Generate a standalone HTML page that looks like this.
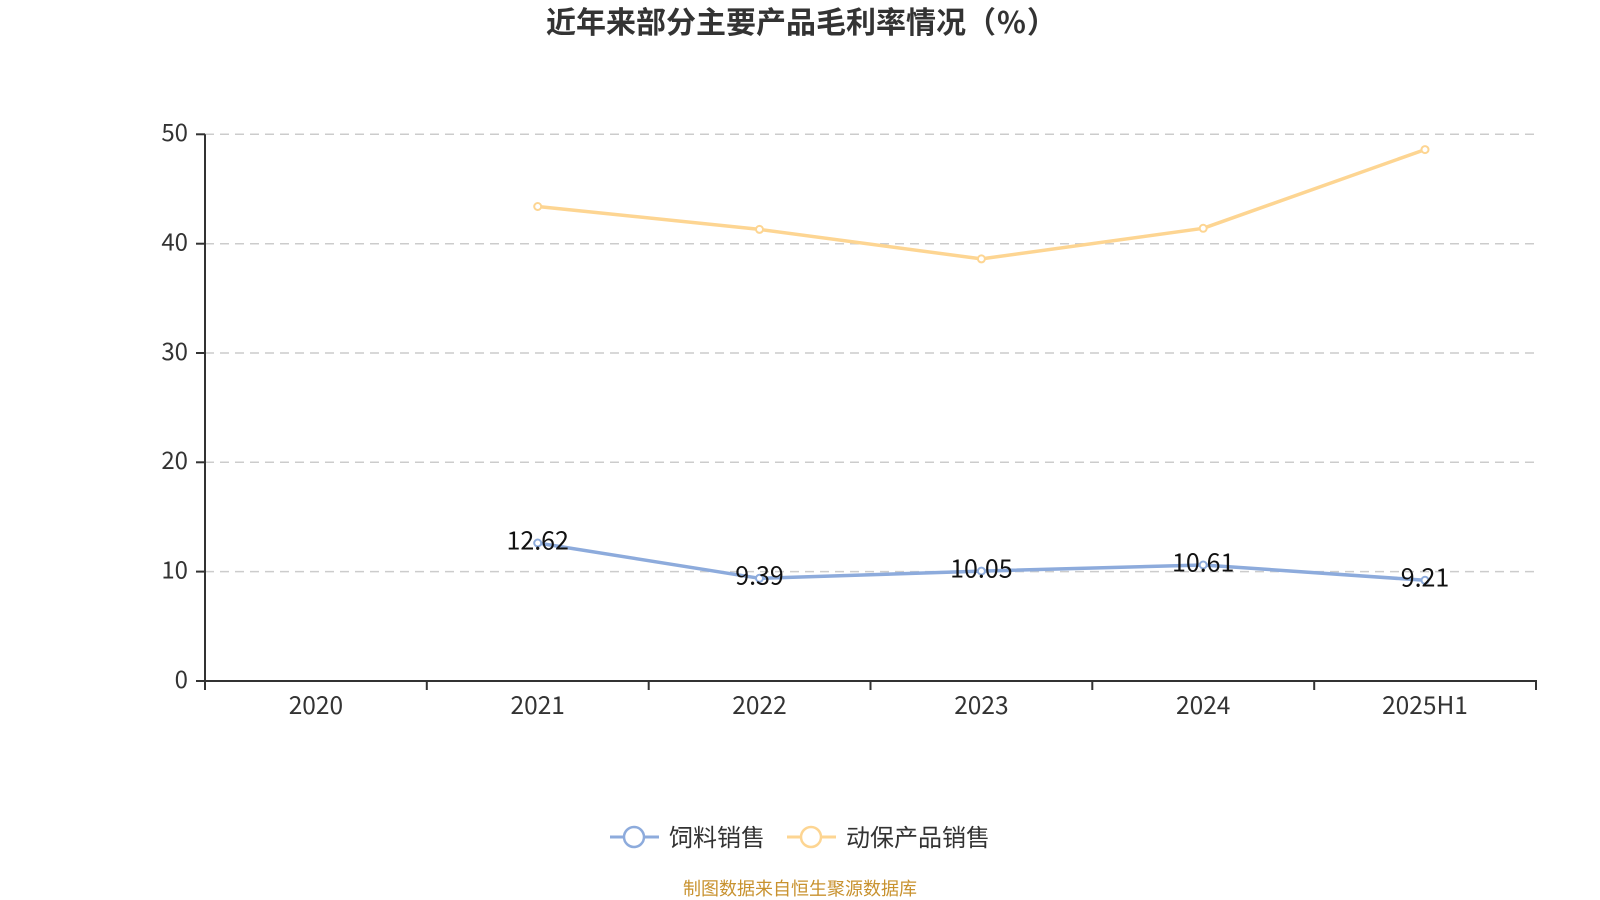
<!DOCTYPE html>
<html>
<head>
<meta charset="utf-8">
<style>
  html, body { margin: 0; padding: 0; background: #fff; }
  body { width: 1600px; height: 900px; overflow: hidden; }
  svg { display: block; }
  text { font-family: "Liberation Sans", "Noto Sans CJK SC", sans-serif; }
  .cjk { font-family: "Noto Sans CJK SC", "Liberation Sans", sans-serif; }
</style>
</head>
<body>
<svg width="1600" height="900" viewBox="0 0 1600 900" xmlns="http://www.w3.org/2000/svg">
  <rect x="0" y="0" width="1600" height="900" fill="#ffffff"/>

  <!-- Title -->
  <text class="cjk" x="546" y="33" font-size="30" font-weight="bold" fill="#333333">近年来部分主要产品毛利率情况<tspan dx="0">（</tspan><tspan dx="1">%</tspan><tspan dx="1">）</tspan></text>

  <!-- Grid lines -->
  <g stroke="#cccccc" stroke-width="1.5" stroke-dasharray="9,6" fill="none">
    <line x1="205" y1="134.3" x2="1536" y2="134.3"/>
    <line x1="205" y1="243.7" x2="1536" y2="243.7"/>
    <line x1="205" y1="353.0" x2="1536" y2="353.0"/>
    <line x1="205" y1="462.3" x2="1536" y2="462.3"/>
    <line x1="205" y1="571.6" x2="1536" y2="571.6"/>
  </g>

  <!-- Axes -->
  <g stroke="#333333" stroke-width="2" fill="none">
    <line x1="205" y1="134.3" x2="205" y2="681"/>
    <line x1="204" y1="681" x2="1537" y2="681"/>
    <line x1="196" y1="134.3" x2="205" y2="134.3"/>
    <line x1="196" y1="243.7" x2="205" y2="243.7"/>
    <line x1="196" y1="353.0" x2="205" y2="353.0"/>
    <line x1="196" y1="462.3" x2="205" y2="462.3"/>
    <line x1="196" y1="571.6" x2="205" y2="571.6"/>
    <line x1="196" y1="681" x2="205" y2="681"/>
    <line x1="205" y1="681" x2="205" y2="690"/>
    <line x1="426.8" y1="681" x2="426.8" y2="690"/>
    <line x1="648.7" y1="681" x2="648.7" y2="690"/>
    <line x1="870.5" y1="681" x2="870.5" y2="690"/>
    <line x1="1092.3" y1="681" x2="1092.3" y2="690"/>
    <line x1="1314.2" y1="681" x2="1314.2" y2="690"/>
    <line x1="1536" y1="681" x2="1536" y2="690"/>
  </g>

  <!-- Y labels -->
  <g font-size="24" fill="#333333" text-anchor="end">
    <text class="cjk" x="188" y="141">50</text>
    <text class="cjk" x="188" y="250.5">40</text>
    <text class="cjk" x="188" y="360">30</text>
    <text class="cjk" x="188" y="469">20</text>
    <text class="cjk" x="188" y="578.5">10</text>
    <text class="cjk" x="188" y="688">0</text>
  </g>

  <!-- X labels -->
  <g font-size="24.5" fill="#333333" text-anchor="middle">
    <text class="cjk" x="315.9" y="714">2020</text>
    <text class="cjk" x="537.7" y="714">2021</text>
    <text class="cjk" x="759.5" y="714">2022</text>
    <text class="cjk" x="981.4" y="714">2023</text>
    <text class="cjk" x="1203.2" y="714">2024</text>
    <text class="cjk" x="1425" y="714">2025H1</text>
  </g>

  <!-- Series: 动保产品销售 -->
  <polyline points="537.7,206.5 759.5,229.4 981.4,258.9 1203.2,228.3 1425,149.6" fill="none" stroke="#fdd592" stroke-width="3.5" stroke-linejoin="round"/>
  <g fill="#ffffff" stroke="#fdd592" stroke-width="2">
    <circle cx="537.7" cy="206.5" r="3.5"/>
    <circle cx="759.5" cy="229.4" r="3.5"/>
    <circle cx="981.4" cy="258.9" r="3.5"/>
    <circle cx="1203.2" cy="228.3" r="3.5"/>
    <circle cx="1425" cy="149.6" r="3.5"/>
  </g>

  <!-- Series: 饲料销售 -->
  <polyline points="537.7,543.0 759.5,578.3 981.4,571.1 1203.2,565.0 1425,580.3" fill="none" stroke="#8dabdc" stroke-width="3.5" stroke-linejoin="round"/>
  <g fill="#ffffff" stroke="#8dabdc" stroke-width="2">
    <circle cx="537.7" cy="543.0" r="3.5"/>
    <circle cx="759.5" cy="578.3" r="3.5"/>
    <circle cx="981.4" cy="571.1" r="3.5"/>
    <circle cx="1203.2" cy="565.0" r="3.5"/>
    <circle cx="1425" cy="580.3" r="3.5"/>
  </g>

  <!-- Data labels -->
  <g font-size="25" fill="#111111" text-anchor="middle">
    <text class="cjk" x="537.7" y="549.5">12.62</text>
    <text class="cjk" x="759.5" y="584.5">9.39</text>
    <text class="cjk" x="981.4" y="577.5">10.05</text>
    <text class="cjk" x="1203.2" y="571.5">10.61</text>
    <text class="cjk" x="1425" y="586.5">9.21</text>
  </g>

  <!-- Legend -->
  <line x1="610" y1="837" x2="659" y2="837" stroke="#8dabdc" stroke-width="3"/>
  <circle cx="634" cy="837" r="10" fill="#ffffff" stroke="#8dabdc" stroke-width="2.5"/>
  <text class="cjk" x="669" y="846" font-size="24" fill="#333333">饲料销售</text>

  <line x1="787" y1="837" x2="836" y2="837" stroke="#fdd592" stroke-width="3"/>
  <circle cx="811" cy="837" r="10" fill="#ffffff" stroke="#fdd592" stroke-width="2.5"/>
  <text class="cjk" x="846" y="846" font-size="24" fill="#333333">动保产品销售</text>

  <!-- Source -->
  <text class="cjk" x="800" y="895" text-anchor="middle" font-size="18" fill="#c8922f">制图数据来自恒生聚源数据库</text>
</svg>
</body>
</html>
